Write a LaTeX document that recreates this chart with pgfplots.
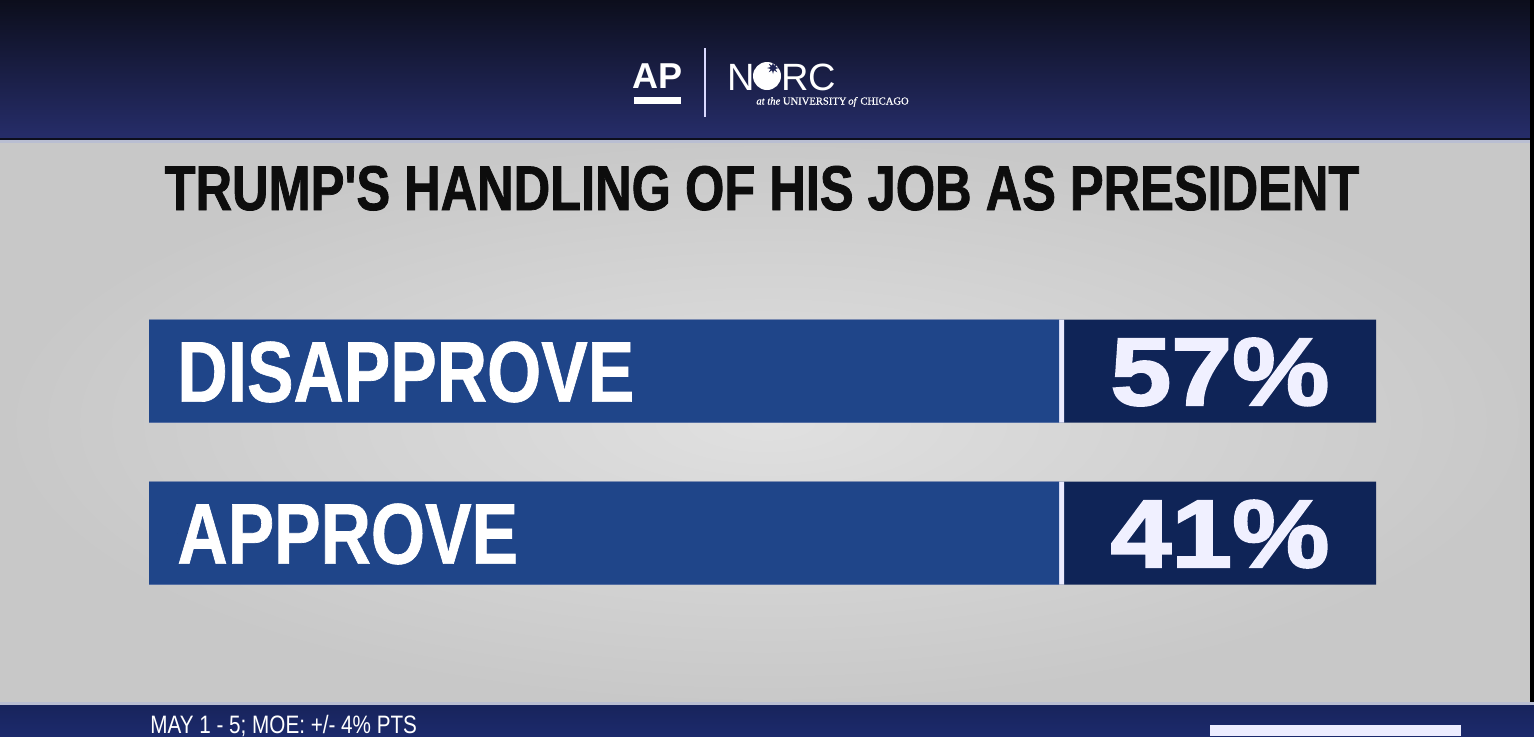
\documentclass[border=0pt]{standalone}
\usepackage{pgfplots}
\pgfplotsset{compat=1.18}
\usepackage{pgfplotstable}
\usepackage{fontspec}
\setmainfont{Liberation Sans}
\newfontfamily\titlefont[FakeStretch=0.80, FakeBold=1.2]{Liberation Sans}
\newfontfamily\barfont[FakeStretch=0.81, FakeBold=0.8]{Liberation Sans}
\newfontfamily\valfont[FakeStretch=1.14, FakeBold=2.2]{Liberation Sans}
\newfontfamily\footfont[FakeStretch=0.82]{Liberation Sans}
\newfontfamily\logoserif[FakeBold=0.6]{Liberation Serif}
\usetikzlibrary{shapes.geometric}

\definecolor{hdrtop}{HTML}{0C0E1C}
\definecolor{hdrbot}{HTML}{262D6A}
\definecolor{paperA}{HTML}{E0E0E0}
\definecolor{paperB}{HTML}{C8C8C8}
\definecolor{footblue}{HTML}{1C2A6C}
\definecolor{barblue}{HTML}{1F4589}
\definecolor{boxnavy}{HTML}{0F2457}
\definecolor{rulelight}{HTML}{B9BED2}

% poll results: bar centre (px from top), answer, share in percent
\pgfplotstableread{
ypos answer value
371 DISAPPROVE 57
533 APPROVE 41
}\polltable

\begin{document}
\begin{tikzpicture}
% ---------- broadcast-style backdrop, 1 unit = 1 px ----------
\begin{scope}[x=0.5pt,y=-0.5pt]
  \fill[paperB] (0,0) rectangle (1534,736);
  \shade[inner color=paperA, outer color=paperB] (0,140) rectangle (1534,705);
  % header band
  \shade[top color=hdrtop, bottom color=hdrbot] (0,0) rectangle (1534,139);
  \fill[hdrtop] (0,138) rectangle (1534,140);
  \fill[rulelight] (0,140) rectangle (1534,142.5);
  % footer band
  \fill[rulelight] (0,702) rectangle (1534,705);
  \shade[top color=footblue!85!black, bottom color=footblue] (0,705) rectangle (1534,736);
  \fill[black] (1530,0) rectangle (1534,702);
  \fill[white!93!blue] (1210,725) rectangle (1461,736);
  % AP | NORC logo
  \fill[white] (634,97) rectangle (681,104);
  \node[anchor=base, text=white, font=\bfseries\fontsize{18}{18}\selectfont, inner sep=0pt]
    at (657.5,88) {AP};
  \draw[white!85!blue, line width=0.9pt] (705,48) -- (705,117);
  \node[anchor=base west, text=white, font=\fontsize{19}{19}\selectfont, inner sep=0pt]
    at (727,90) {N};
  \fill[white] (767,76) circle (14);
  \node[star, star points=8, star point ratio=2.4, fill=hdrbot!80!black, minimum size=6pt, inner sep=0pt]
    at (773,68) {};
  \node[anchor=base west, text=white, font=\fontsize{19}{19}\selectfont, inner sep=0pt]
    at (781,90) {RC};
  \node[anchor=base west, text=white, font=\logoserif\fontsize{5.3}{5.3}\selectfont, inner sep=0pt]
    at (756,104.5) {\textit{at the} UNIVERSITY\,\textit{of} CHICAGO};
  % headline
  \node[anchor=base, text=black!95, font=\titlefont\bfseries\fontsize{31.6}{31.6}\selectfont, inner sep=0pt]
    at (762,210) {TRUMP'S HANDLING OF HIS JOB AS PRESIDENT};
  % survey note
  \node[anchor=base west, text=white, font=\footfont\fontsize{12.6}{12.6}\selectfont, inner sep=0pt]
    at (150,733) {MAY 1 - 5; MOE: +/- 4\% PTS};
\end{scope}

% ---------- result bars, axis units = px, x origin at the bar start ----------
\begin{axis}[
  at={(0pt,0pt)}, anchor=north west,
  scale only axis, width=767pt, height=368pt,
  xmin=-149, xmax=1385, ymin=0, ymax=736, y dir=reverse,
  hide axis, clip=false,
]
  % dark value box (full length), thin white divider, blue answer bar
  \addplot[xbar, bar shift=0pt, bar width=103, fill=boxnavy, draw=none]
    table[x expr=1227, y=ypos] {\polltable};
  \addplot[xbar, bar shift=0pt, bar width=103, fill=white!92!blue, draw=none]
    table[x expr=915, y=ypos] {\polltable};
  \addplot[xbar, bar shift=0pt, bar width=103, fill=barblue, draw=none]
    table[x expr=910, y=ypos] {\polltable};
  % answer labels
  \addplot[only marks, mark=*, mark size=0pt, mark options={draw=none, fill=none},
    point meta=explicit symbolic,
    nodes near coords, nodes near coords align={anchor=west},
    every node near coord/.append style={anchor=west, inner sep=0pt, text=white,
      font=\barfont\bfseries\fontsize{43}{43}\selectfont, yshift=-0.5pt}]
    table[x expr=28, y=ypos, meta=answer] {\polltable};
  % shares
  \addplot[only marks, mark=*, mark size=0pt, mark options={draw=none, fill=none},
    point meta=explicit symbolic,
    nodes near coords={\pgfplotspointmeta\%}, nodes near coords align={center},
    every node near coord/.append style={anchor=center, inner sep=0pt, text=white!94!blue,
      font=\valfont\bfseries\fontsize{48}{48}\selectfont, yshift=-0.5pt}]
    table[x expr=1071, y=ypos, meta=value] {\polltable};
\end{axis}
\end{tikzpicture}
\end{document}
